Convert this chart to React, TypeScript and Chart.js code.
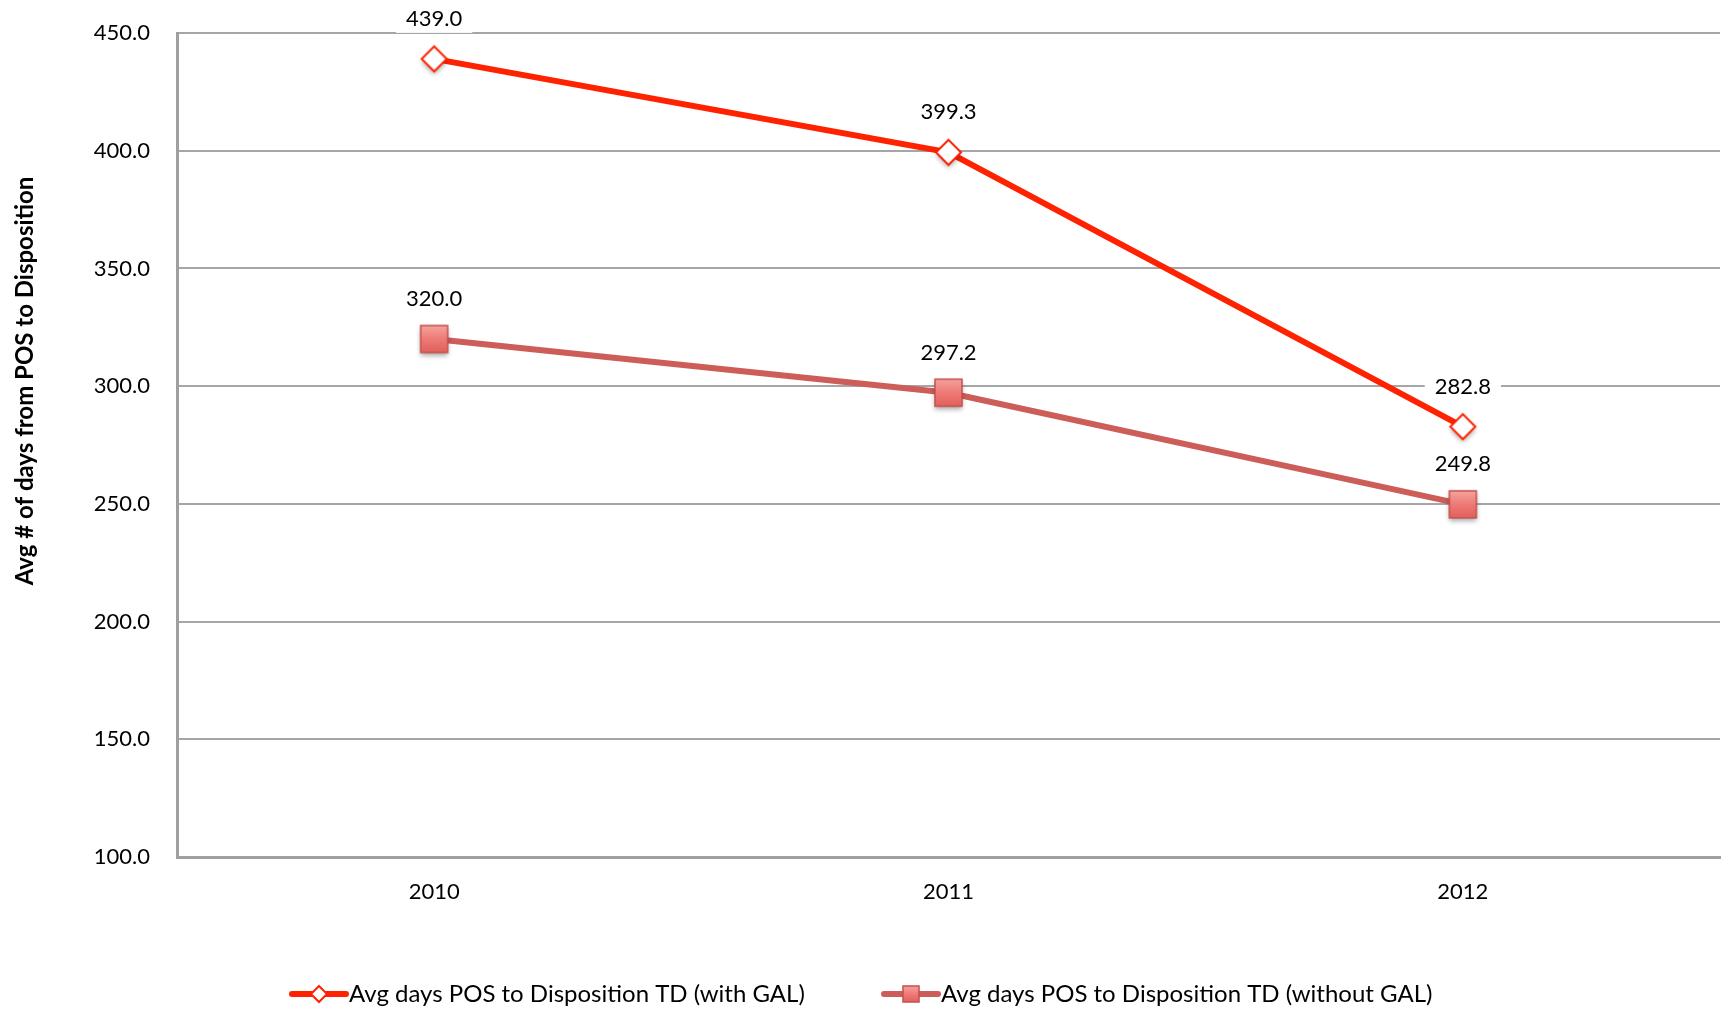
import React, { useEffect, useRef } from "react";
import { Chart, registerables } from "chart.js";

Chart.register(...registerables);

// Years on the category axis
const years = ["2010", "2011", "2012"];
// Average days from POS to disposition
const withGal = [439.0, 399.3, 282.8];
const withoutGal = [320.0, 297.2, 249.8];
const seriesNames = [
  "Avg days POS to Disposition TD (with GAL)",
  "Avg days POS to Disposition TD (without GAL)",
];
const yAxisTitle = "Avg # of days from POS to Disposition";
const yMin = 100;
const yMax = 450;
const yStep = 50;

const W = 1722;
const H = 1013;
const FONT = "Lato, 'Open Sans', sans-serif";
const RED = "#FF2200";
const ROSE = "#CD5D59";
const ROSE_EDGE = "#C4504C";

// Marker sprites with a soft drop shadow, used as point styles
function makeDiamond(half: number, shadow: boolean) {
  const size = Math.ceil(half * 2 + 16);
  const c = document.createElement("canvas");
  c.width = size;
  c.height = size;
  const g = c.getContext("2d")!;
  const cx = size / 2;
  const cy = size / 2;
  if (shadow) {
    g.shadowColor = "rgba(0,0,0,0.35)";
    g.shadowBlur = 5;
    g.shadowOffsetY = 3;
  }
  g.beginPath();
  g.moveTo(cx, cy - half);
  g.lineTo(cx + half, cy);
  g.lineTo(cx, cy + half);
  g.lineTo(cx - half, cy);
  g.closePath();
  g.fillStyle = "#ffffff";
  g.fill();
  g.shadowColor = "transparent";
  g.lineWidth = 2;
  g.strokeStyle = RED;
  g.stroke();
  return c;
}

function makeSquare(side: number, shadow: boolean) {
  const size = Math.ceil(side + 16);
  const c = document.createElement("canvas");
  c.width = size;
  c.height = size;
  const g = c.getContext("2d")!;
  const x0 = (size - side) / 2;
  const y0 = (size - side) / 2;
  const grad = g.createLinearGradient(0, y0, 0, y0 + side);
  grad.addColorStop(0, "#F5A29E");
  grad.addColorStop(0.5, "#EE7A76");
  grad.addColorStop(1, "#E2605C");
  if (shadow) {
    g.shadowColor = "rgba(0,0,0,0.35)";
    g.shadowBlur = 5;
    g.shadowOffsetY = 3;
  }
  g.fillStyle = grad;
  g.fillRect(x0, y0, side, side);
  g.shadowColor = "transparent";
  g.lineWidth = 1.5;
  g.strokeStyle = ROSE_EDGE;
  g.strokeRect(x0, y0, side, side);
  return c;
}

const valueLabels = {
  id: "valueLabels",
  afterDatasetsDraw(chart: any) {
    const ctx = chart.ctx;
    ctx.save();
    ctx.font = `22px ${FONT}`;
    ctx.textAlign = "center";
    ctx.textBaseline = "middle";
    chart.data.datasets.forEach((ds: any, i: number) => {
      const meta = chart.getDatasetMeta(i);
      meta.data.forEach((pt: any, j: number) => {
        const txt = Number(ds.data[j]).toFixed(1);
        const w = ctx.measureText(txt).width;
        const x = pt.x;
        const y = pt.y - 40;
        ctx.fillStyle = "#ffffff";
        ctx.fillRect(x - w / 2 - 10, y - 14, w + 20, 28);
        ctx.fillStyle = "#000000";
        ctx.fillText(txt, x, y);
      });
    });
    ctx.restore();
  },
};

const extras = {
  id: "extras",
  afterDraw(chart: any) {
    const ctx = chart.ctx;
    ctx.save();
    // rotated axis title
    ctx.translate(25, 381);
    ctx.rotate(-Math.PI / 2);
    ctx.font = `bold 24px ${FONT}`;
    ctx.fillStyle = "#000";
    ctx.textAlign = "center";
    ctx.textBaseline = "middle";
    ctx.fillText(yAxisTitle, 0, 0);
    ctx.restore();

    // legend
    ctx.save();
    const ly = 994;
    ctx.font = `24px ${FONT}`;
    ctx.textBaseline = "middle";
    ctx.textAlign = "left";
    const items = [
      { x0: 292, name: seriesNames[0], color: RED, sprite: makeDiamond(8, false) },
      { x0: 884, name: seriesNames[1], color: ROSE, sprite: makeSquare(16, false) },
    ];
    items.forEach((it) => {
      ctx.strokeStyle = it.color;
      ctx.lineWidth = 6;
      ctx.lineCap = "round";
      ctx.beginPath();
      ctx.moveTo(it.x0, ly);
      ctx.lineTo(it.x0 + 54, ly);
      ctx.stroke();
      const cx = it.x0 + 27;
      ctx.drawImage(it.sprite, cx - it.sprite.width / 2, ly - it.sprite.height / 2);
      ctx.fillStyle = "#000";
      ctx.fillText(it.name, it.x0 + 57, ly);
    });
    ctx.restore();
  },
};

export default function App() {
  const canvasRef = useRef<HTMLCanvasElement | null>(null);

  useEffect(() => {
    if (!canvasRef.current) return;
    const diamond = makeDiamond(12.5, true);
    const square = makeSquare(27, true);
    const chart = new Chart(canvasRef.current, {
      type: "line",
      data: {
        labels: years,
        datasets: [
          {
            label: seriesNames[0],
            data: withGal,
            borderColor: RED,
            borderWidth: 6,
            pointStyle: diamond,
            pointRadius: 13,
            tension: 0,
          },
          {
            label: seriesNames[1],
            data: withoutGal,
            borderColor: ROSE,
            borderWidth: 6,
            pointStyle: square,
            pointRadius: 14,
            tension: 0,
          },
        ],
      },
      options: {
        animation: false,
        responsive: false,
        maintainAspectRatio: false,
        devicePixelRatio: 1,
        layout: { autoPadding: false, padding: { top: 33, right: 2, left: 0, bottom: 0 } },
        plugins: {
          legend: { display: false },
          tooltip: { enabled: false },
          title: { display: false },
        },
        scales: {
          x: {
            offset: true,
            grid: { display: false, drawTicks: false },
            border: { display: true, color: "#A0A0A0", width: 3 },
            ticks: {
              color: "#000",
              font: { family: FONT, size: 22 },
              padding: 22,
            },
            afterFit(scale: any) {
              scale.height = 156;
              scale.paddingLeft = 0;
              scale.paddingRight = 0;
            },
          },
          y: {
            min: yMin,
            max: yMax,
            grid: { color: "#A6A6A6", lineWidth: 2, drawTicks: false },
            border: { display: true, color: "#A0A0A0", width: 3 },
            ticks: {
              stepSize: yStep,
              color: "#000",
              font: { family: FONT, size: 22 },
              padding: 27,
              callback: (v: any) => Number(v).toFixed(1),
            },
            afterFit(scale: any) {
              scale.width = 177;
              scale.paddingTop = 0;
              scale.paddingBottom = 0;
            },
          },
        },
      },
      plugins: [valueLabels, extras],
    });
    return () => chart.destroy();
  }, []);

  return (
    <div style={{ position: "fixed", left: 0, top: 0, width: W, height: H, background: "#fff" }}>
      <canvas ref={canvasRef} width={W} height={H} style={{ display: "block", width: W, height: H }} />
    </div>
  );
}
